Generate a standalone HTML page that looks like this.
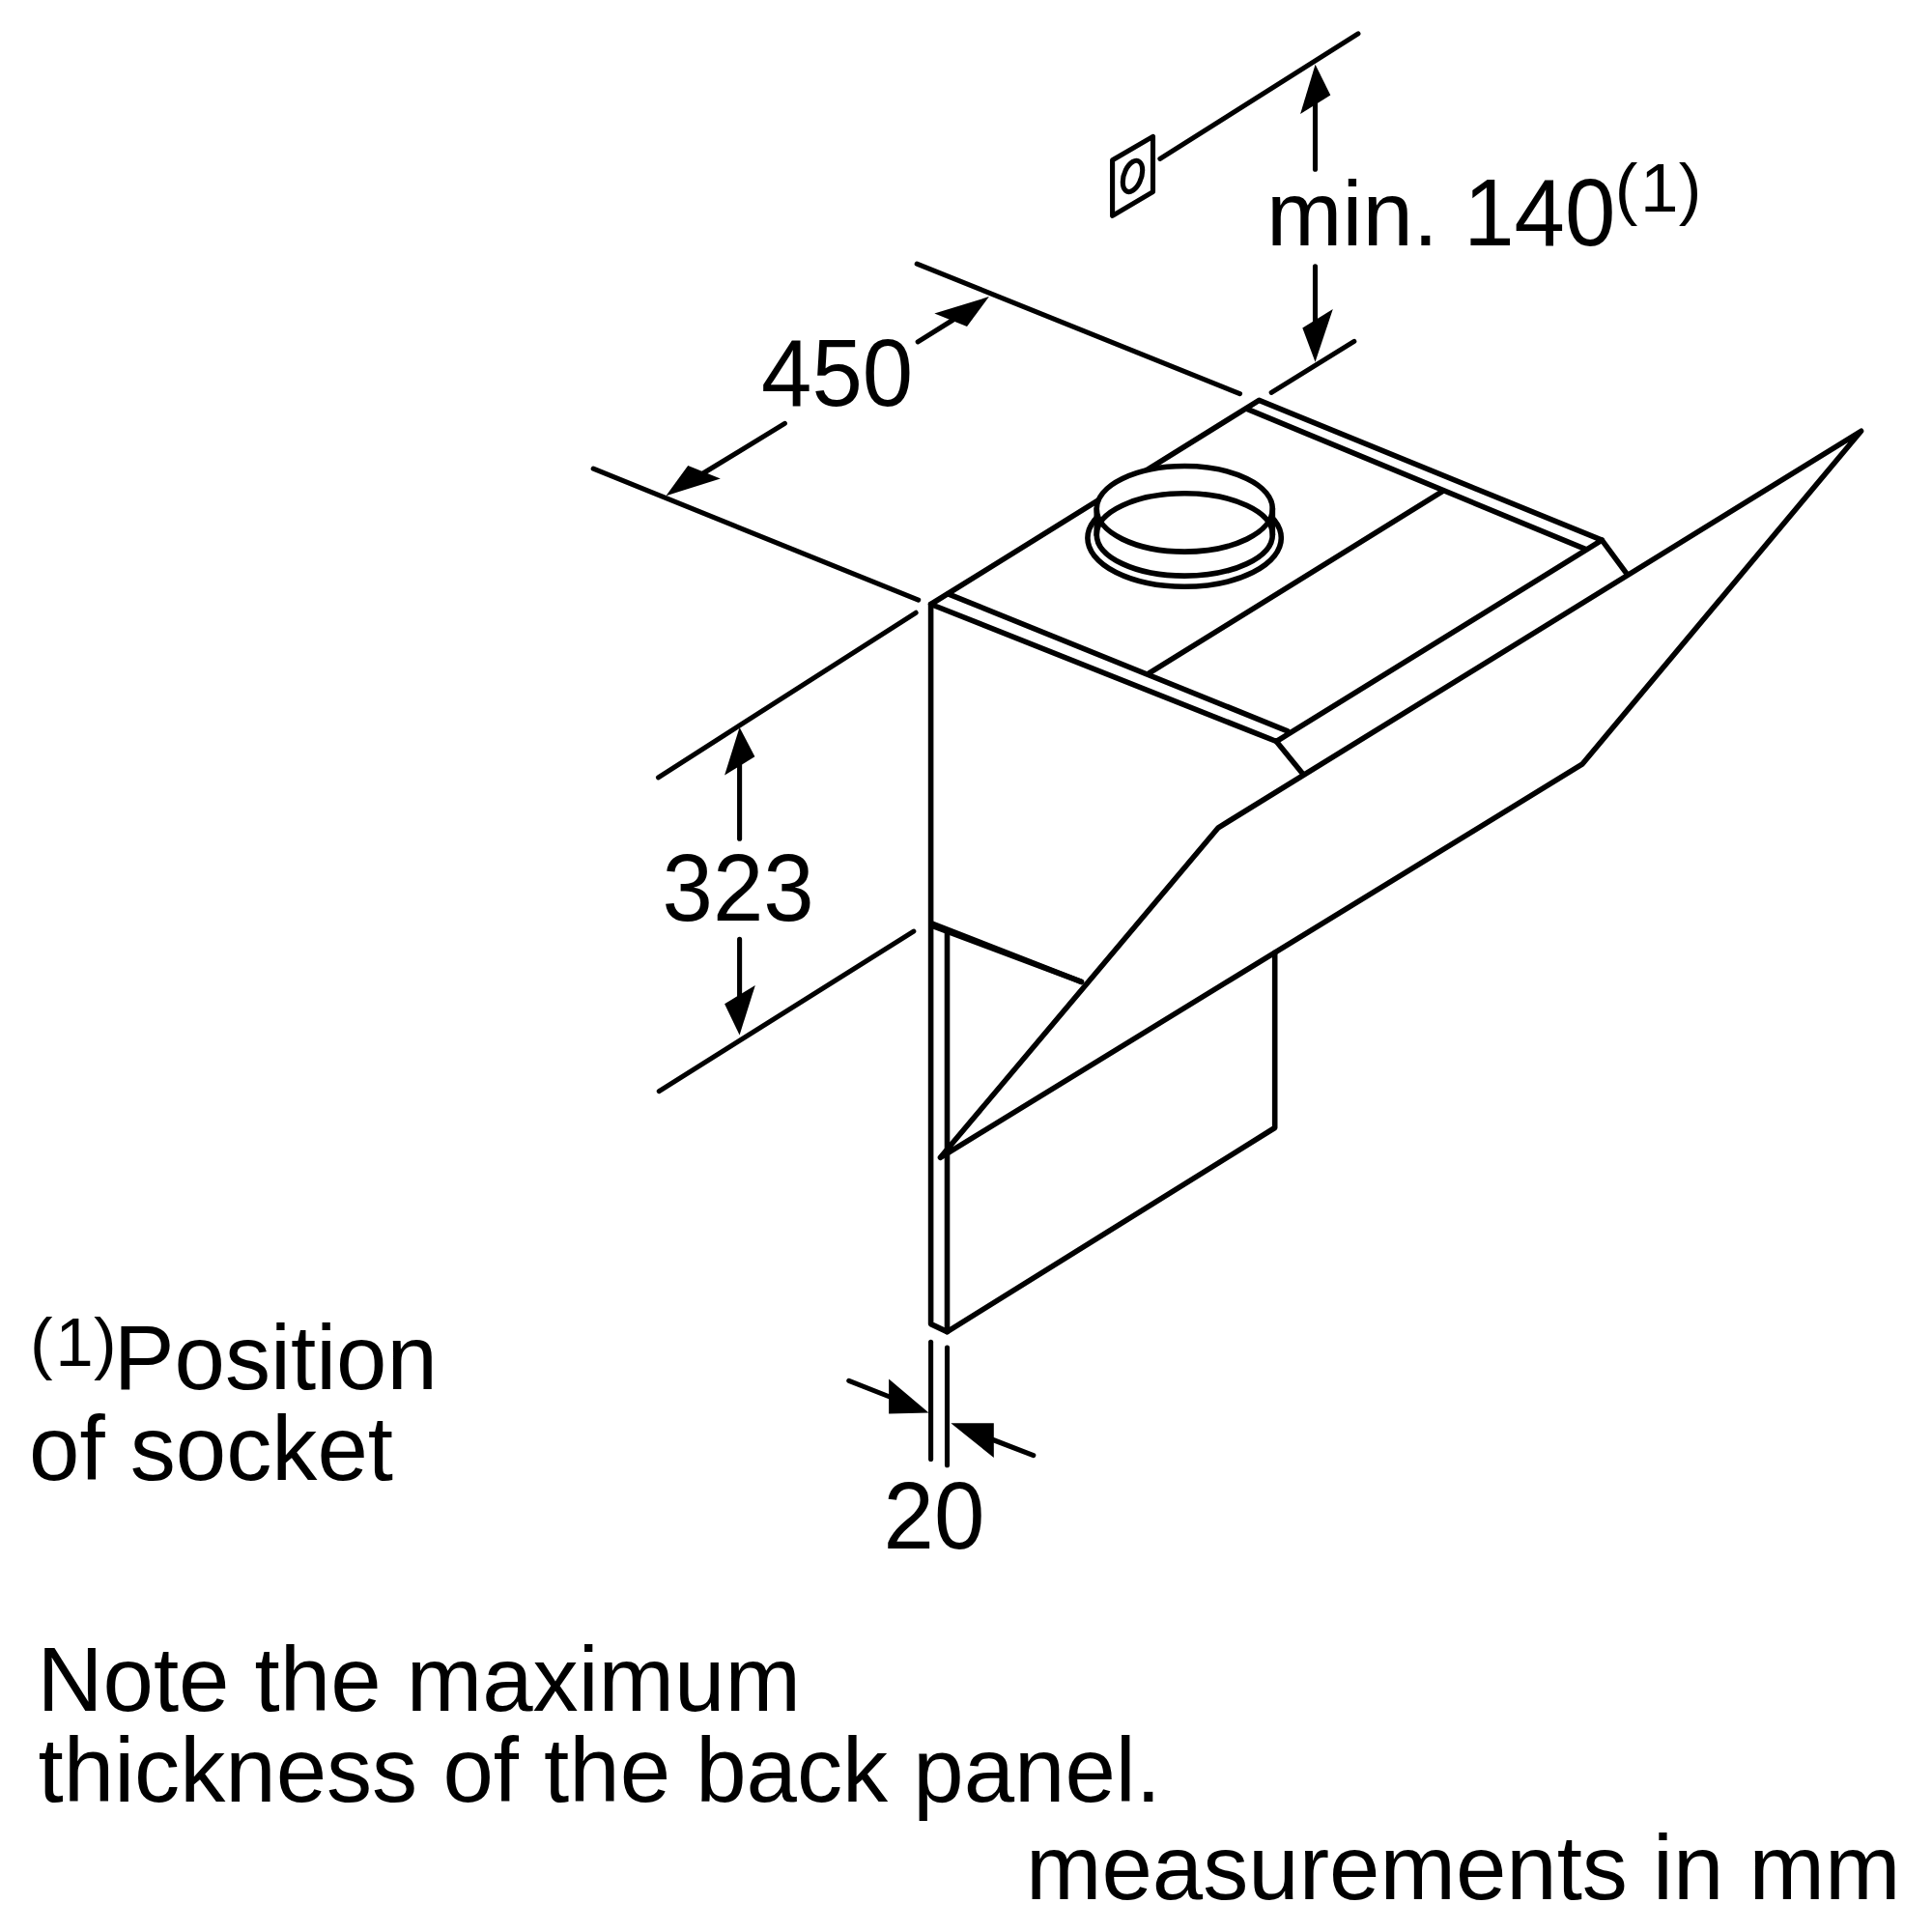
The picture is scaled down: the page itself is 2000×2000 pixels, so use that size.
<!DOCTYPE html>
<html><head><meta charset="utf-8"><title>Dimension drawing</title>
<style>
html,body{margin:0;padding:0;background:#fff;}
body{width:2000px;height:2000px;overflow:hidden;}
svg{display:block;}
text{font-family:"Liberation Sans",sans-serif;fill:#000;}
.hd{fill:none;stroke:#000;stroke-width:5.6;stroke-linecap:round;stroke-linejoin:round;}
.ln{fill:none;stroke:#000;stroke-width:5.1;stroke-linecap:round;stroke-linejoin:round;}
.fl{fill:#000;stroke:none;}
</style></head><body>
<svg width="2000" height="2000" viewBox="0 0 2000 2000">
<rect width="2000" height="2000" fill="#fff"/>
<g class="hd">
<path d="M963.6 625.5 L1303.4 414.4 L1658.3 559.2 L1321.3 767.5 L963.6 625.5"/>
<line x1="981.6" y1="614.9" x2="1332.9" y2="756.8"/>
<line x1="1291" y1="423.4" x2="1641.7" y2="568.7"/>
<line x1="1189.1" y1="697.1" x2="1493.6" y2="508.4"/>
<path d="M1321.3 767.5 L1349 801.4"/>
<path d="M1658.3 559.2 L1684.3 594.4"/>
<path d="M973.4 1198.3 L1261.2 856.8 L1926.6 446.3 L1637.8 791.2 L973.4 1198.3 Z"/>
<path d="M963.6 625.5 L963.6 1370.6 L980.5 1378.6 L1319.7 1167.5 L1319.7 986.4"/>
<line x1="980.5" y1="1378.6" x2="980.5" y2="963"/>
<line x1="965" y1="956.1" x2="1119.4" y2="1016.3"/>
<line x1="965" y1="958.5" x2="1119.4" y2="1016.3"/>
<ellipse cx="1226.1" cy="557" rx="100.2" ry="50.2"/>
<path d="M1135.25 526.8 A91.05 44.3 0 0 1 1317.35 526.8 L1317.35 553.4 A91.05 42.7 0 0 1 1135.25 553.4 Z" fill="#fff" stroke="none"/>
<ellipse cx="1226.3" cy="526.8" rx="91.05" ry="44.3"/>
<ellipse cx="1226.3" cy="553.4" rx="91.05" ry="42.7"/>
<line x1="1135.25" y1="526.8" x2="1135.25" y2="553.4"/>
<line x1="1317.35" y1="526.8" x2="1317.35" y2="553.4"/>
</g>
<g class="ln">
<path d="M1151.6 165.7 L1193.5 141.4 L1193.5 198.6 L1151.6 223.4 Z"/>
<ellipse cx="0" cy="0" rx="10.2" ry="14.9" transform="matrix(1 -0.594 0 1 1172.5 182.4)" vector-effect="non-scaling-stroke"/>
<line x1="1200.9" y1="164.3" x2="1405.9" y2="34.9"/>
<line x1="1361.5" y1="100" x2="1361.5" y2="175.2"/>
<line x1="1361.5" y1="275.8" x2="1361.5" y2="345"/>
<line x1="1316.2" y1="406.4" x2="1401.8" y2="353.4"/>
<line x1="949.2" y1="273.1" x2="1283.5" y2="407.6"/>
<line x1="614.2" y1="485.2" x2="950.7" y2="621.1"/>
<line x1="950.2" y1="353.9" x2="986" y2="331.5"/>
<line x1="812.4" y1="438.4" x2="727" y2="490.5"/>
<line x1="681.5" y1="804.8" x2="948.1" y2="634.3"/>
<line x1="682.3" y1="1129.6" x2="945.8" y2="964.1"/>
<line x1="765.6" y1="785" x2="765.6" y2="868.3"/>
<line x1="765.6" y1="972.4" x2="765.6" y2="1040"/>
<line x1="963.6" y1="1389.3" x2="963.6" y2="1510.4"/>
<line x1="980.5" y1="1395.1" x2="980.5" y2="1516.7"/>
<line x1="878.8" y1="1429.3" x2="921" y2="1446"/>
<line x1="1069.8" y1="1506.7" x2="1028" y2="1490.5"/>
</g>
<g class="fl">
<polygon points="1361.6000000000001,66.7 1377.3000000000002,98.4 1346.1000000000001,118"/>
<polygon points="1361.5,374.8 1348.3000000000002,339.4 1379.8000000000002,320"/>
<polygon points="1023.9,307.1 1001,338.1 967.3,324.6"/>
<polygon points="689.5,513.2 712.2,481.9 745.8,495.4"/>
<polygon points="765.6,752.9 781.4,783.2 750.1,802.5"/>
<polygon points="765.6,1071.5 750.1,1039.2 781.8000000000001,1020"/>
<polygon points="920.1,1427.6 920.1,1463.5 961.5,1462.4"/>
<polygon points="984.3,1473.2 1028.8,1473.2 1028.8,1509"/>
</g>
<g>
<text x="1311" y="254.4" font-size="94.2" text-anchor="start">min.</text>
<text transform="translate(1515.1314 254.4) scale(1 1.035)" x="0" y="0" font-size="94.2">140</text>
<text y="219.3" font-size="71" x="1671.7 1698.1000000000001 1737.7">(1)</text>
<text transform="translate(788 419.5) scale(1 1.035)" x="0" y="0" font-size="94.2">450</text>
<text transform="translate(685.5 953.1) scale(1 1.035)" x="0" y="0" font-size="94.2">323</text>
<text transform="translate(914.5 1603) scale(1 1.035)" x="0" y="0" font-size="94.2">20</text>
<text y="1414.3" font-size="71" x="30.9 57.3 96.9">(1)</text>
<text x="117.8" y="1437.6" font-size="94.2" text-anchor="start">Position</text>
<text x="30" y="1532.3" font-size="94.2" text-anchor="start">of socket</text>
<text x="38.5" y="1771" font-size="94.2" text-anchor="start">Note the maximum</text>
<text x="39.6" y="1865" font-size="94.2" text-anchor="start">thickness of the back panel.</text>
<text x="1062" y="1966" font-size="94.2" text-anchor="start">measurements in mm</text>
</g>
</svg>
</body></html>
